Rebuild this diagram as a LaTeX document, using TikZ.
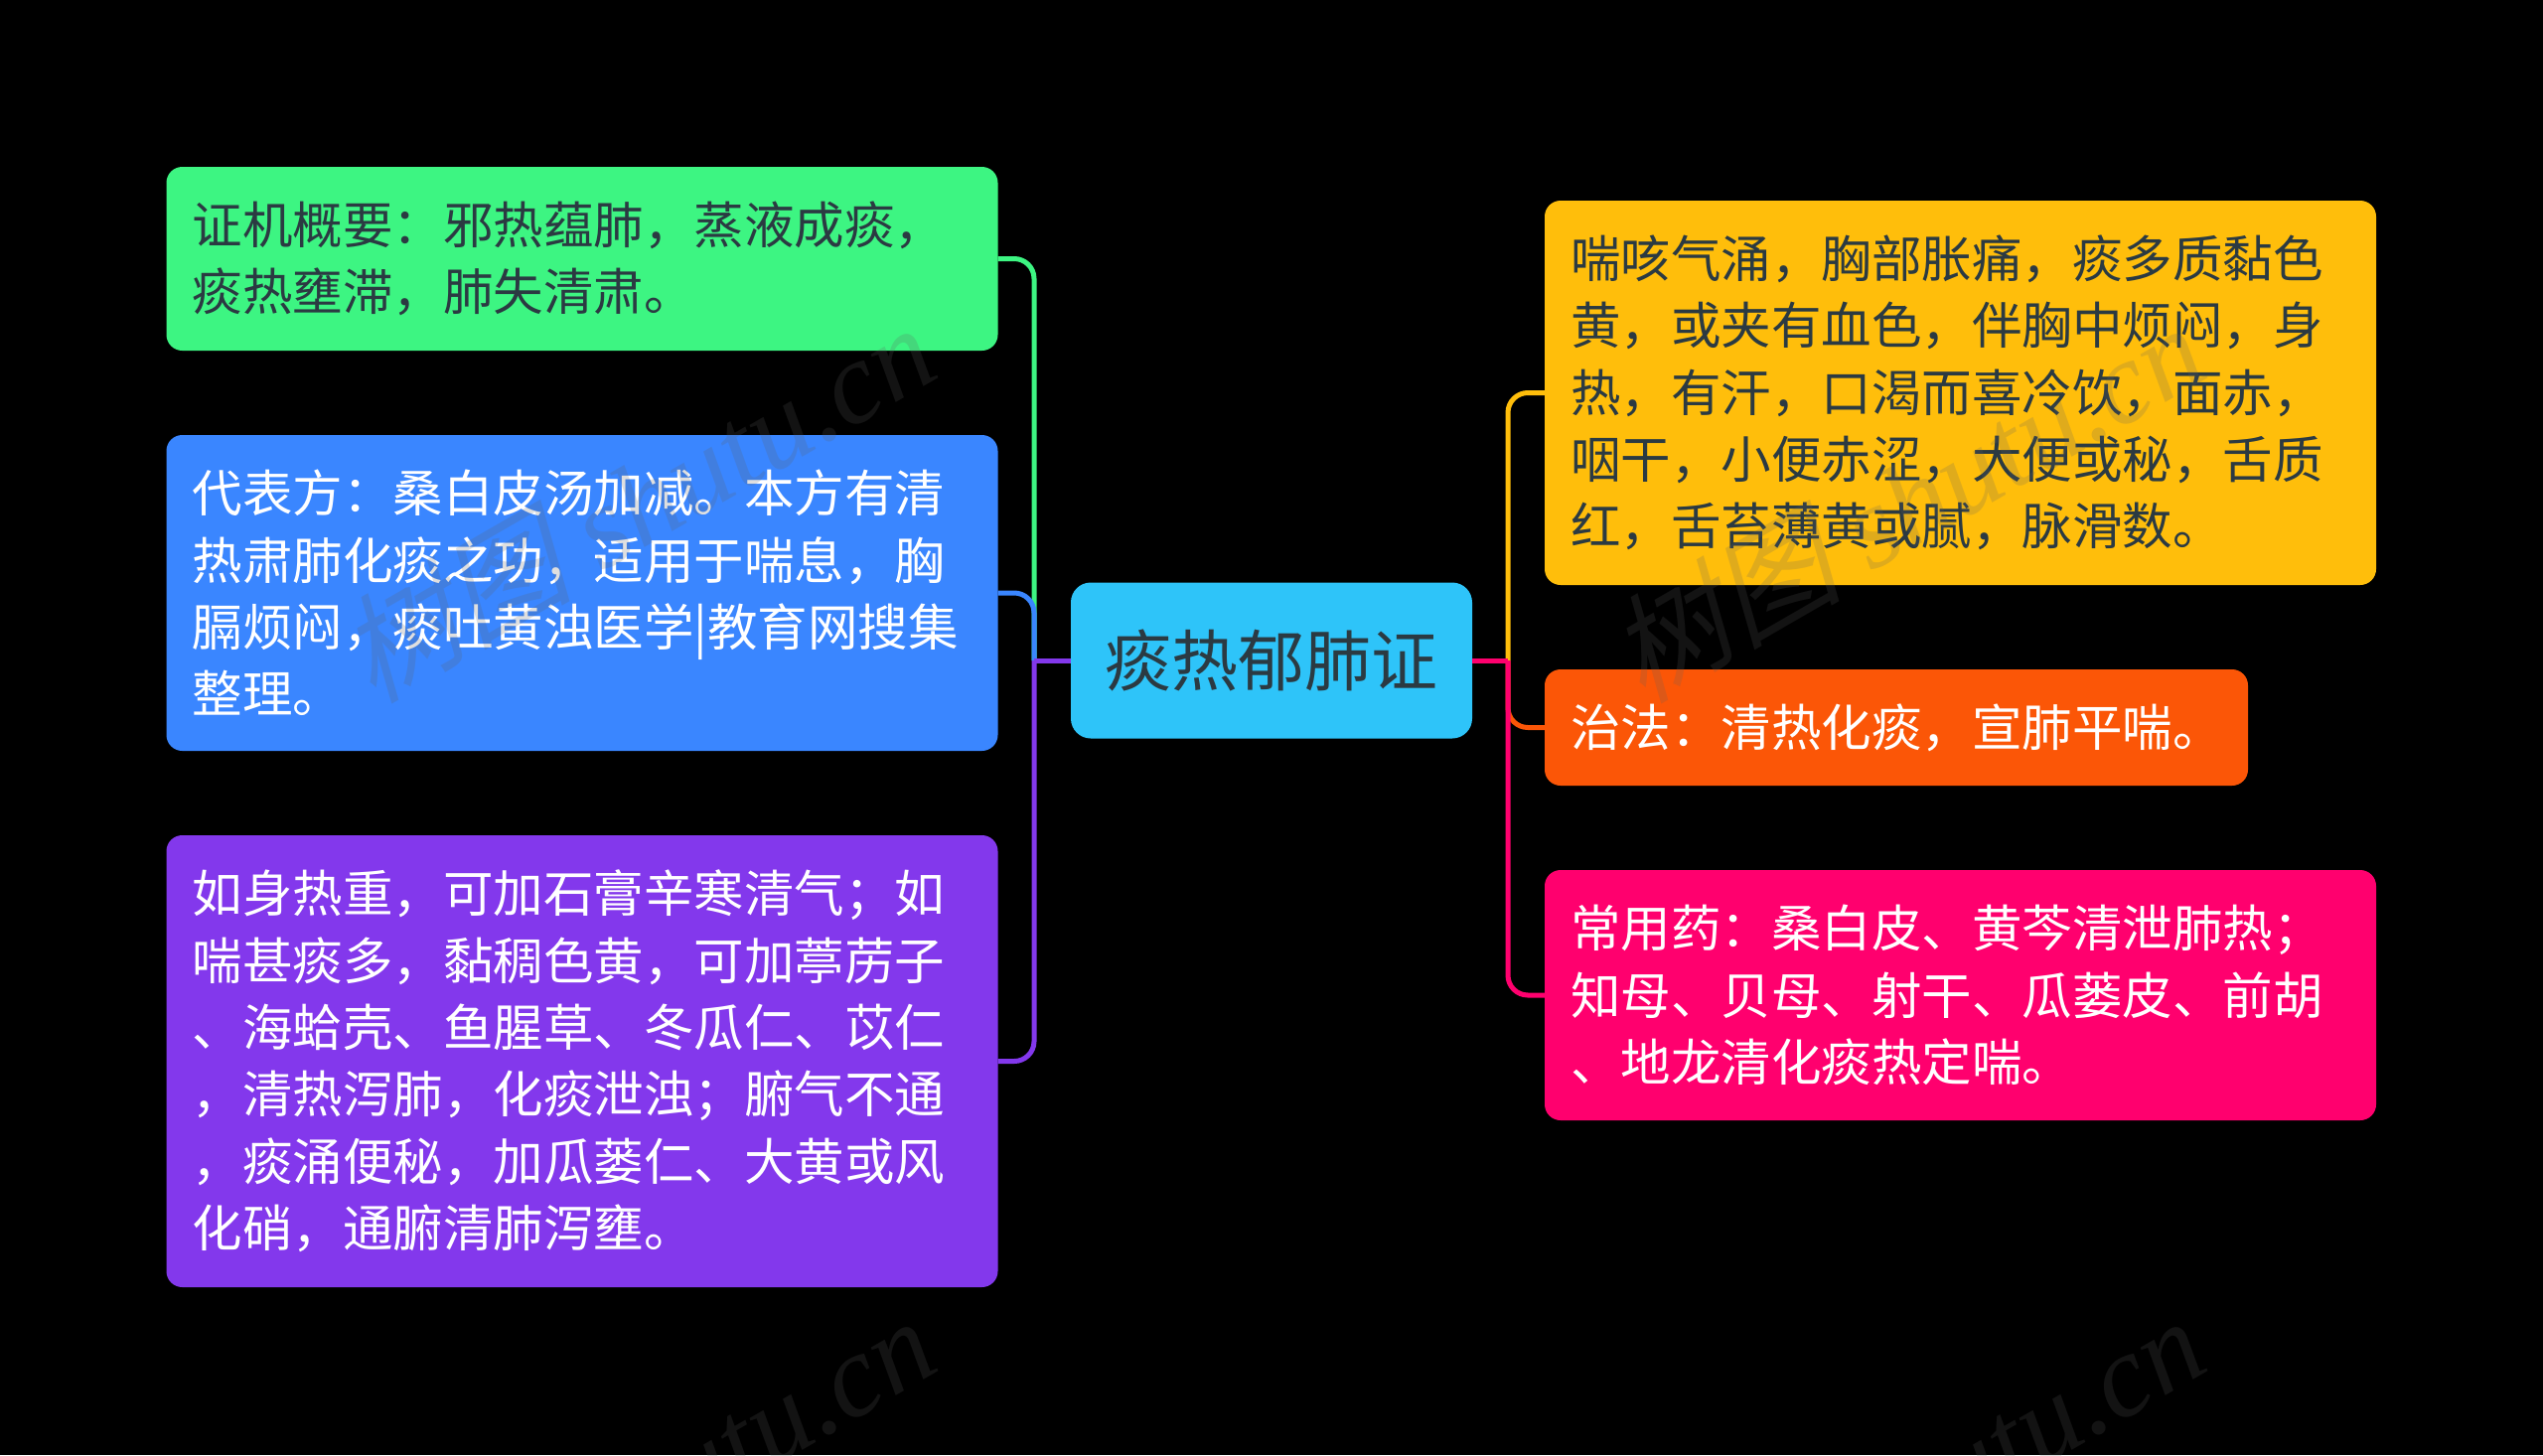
\documentclass[tikz,border=0pt]{standalone}
\usepackage{fontspec}
\setmainfont{Noto Sans CJK SC}
\newfontfamily\markfont{Liberation Serif}
\newfontfamily\markcjk[FakeSlant=0.25]{Noto Sans CJK SC}
\XeTeXlinebreaklocale ""
\definecolor{rootblue}{HTML}{2EC4F9}
\definecolor{cgreen}{HTML}{3DF582}
\definecolor{cblue}{HTML}{3A86FF}
\definecolor{cpurple}{HTML}{8338EC}
\definecolor{cyellow}{HTML}{FFBE0B}
\definecolor{corange}{HTML}{FB5607}
\definecolor{cpink}{HTML}{FF006E}
\definecolor{darktext}{HTML}{2B3A42}
\definecolor{markgray}{HTML}{606060}
\tikzset{
	block/.style = {rectangle, rounded corners=16pt, anchor=center, align=left, inner xsep=26pt, inner ysep=0pt,
		text width=785pt, minimum width=837pt, font=\fontsize{50.5}{67.3}\selectfont},
	root/.style = {rectangle, rounded corners=20pt, fill=rootblue, text=darktext, inner sep=0pt,
		minimum width=404pt, minimum height=157pt, font=\fontsize{67}{80}\selectfont},
	link/.style = {line width=5pt, rounded corners=20pt},
	tmp/.style = {coordinate},
	wmark/.style = {text=markgray, opacity=0.2, rotate=30, inner sep=0pt, font=\markfont\fontsize{118}{118}\selectfont\itshape}
}
\begin{document}
\begin{tikzpicture}[x=1pt,y=-1pt]
	\useasboundingbox (0,0) rectangle (2560,1465);
	\fill [black] (0,0) rectangle (2560,1465);

	\node [root] (R) at (1280,665) {痰热郁肺证};
	\node [tmp] (busL) at (1041,665) {};
	\node [tmp] (busR) at (1518,665) {};

	% left side
	\node [block, fill=cgreen, text=darktext, minimum height=185pt] (A) at (586,260.5) {证机概要：邪热蕴肺，蒸液成痰，\\痰热壅滞，肺失清肃。};
	\node [block, fill=cblue, text=white, minimum height=318pt] (B) at (586,597) {代表方：桑白皮汤加减。本方有清\\热肃肺化痰之功，适用于喘息，胸\\膈烦闷，痰吐黄浊医学|教育网搜集\\整理。};
	\node [block, fill=cpurple, text=white, minimum height=455pt] (C) at (586,1068.5) {如身热重，可加石膏辛寒清气；如\\喘甚痰多，黏稠色黄，可加葶苈子\\、海蛤壳、鱼腥草、冬瓜仁、苡仁\\，清热泻肺，化痰泄浊；腑气不通\\，痰涌便秘，加瓜蒌仁、大黄或风\\化硝，通腑清肺泻壅。};

	% right side
	\node [block, fill=cyellow, text=darktext, minimum height=387pt] (D) at (1973.5,395.5) {喘咳气涌，胸部胀痛，痰多质黏色\\黄，或夹有血色，伴胸中烦闷，身\\热，有汗，口渴而喜冷饮，面赤，\\咽干，小便赤涩，大便或秘，舌质\\红，舌苔薄黄或腻，脉滑数。};
	\node [block, fill=corange, text=white, text width=656pt, minimum width=708pt, minimum height=117pt] (E) at (1909,732.5) {治法：清热化痰，宣肺平喘。};
	\node [block, fill=cpink, text=white, minimum height=252pt] (F) at (1973.5,1002) {常用药：桑白皮、黄芩清泄肺热；\\知母、贝母、射干、瓜蒌皮、前胡\\、地龙清化痰热定喘。};

	\draw [link, cgreen] (busL) |- (A.east);
	\draw [link, cblue] (busL) |- (B.east);
	\draw [link, cpurple] (busL) |- (C.east);
	\draw [line width=5pt, cpurple] (R.west) -- (busL);

	\draw [link, cyellow] (busR) |- (D.west);
	\draw [link, corange] (busR) |- (E.west);
	\draw [link, cpink] (busR) |- (F.west);
	\draw [line width=5pt, cpink] (R.east) -- (busR);

	% watermark
	\node [wmark] (M1) at (640,505) {{\markcjk 树图} shutu.cn};
	\node [wmark] (M2) at (1918,505) {{\markcjk 树图} shutu.cn};
	\node [wmark] (M3) at (640,1505) {{\markcjk 树图} shutu.cn};
	\node [wmark] (M4) at (1918,1505) {{\markcjk 树图} shutu.cn};
\end{tikzpicture}
\end{document}
